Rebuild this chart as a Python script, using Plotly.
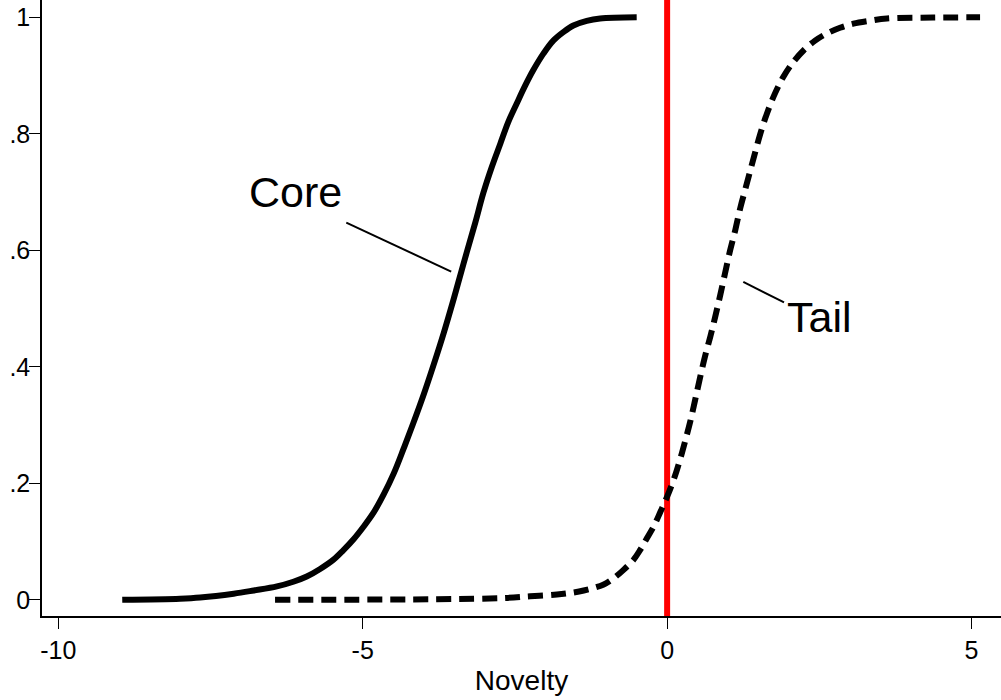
import plotly.graph_objects as go

# Data
core_x = [-8.95, -8.0, -7.67, -7.12, -6.79, -6.41, -6.14, -5.92, -5.70, -5.48, -5.32, -5.15,
          -4.99, -4.82, -4.66, -4.49, -4.33, -4.17, -4.0, -3.84, -3.67, -3.51, -3.43, -3.29,
          -3.15, -3.02, -2.88, -2.74, -2.61, -2.47, -2.33, -2.20, -2.03, -1.87, -1.70, -1.54,
          -1.32, -1.10, -0.50]
core_y = [0.0, 0.002, 0.004, 0.0105, 0.016, 0.023, 0.031, 0.040, 0.053, 0.069, 0.085, 0.104,
          0.125, 0.150, 0.180, 0.217, 0.259, 0.303, 0.352, 0.402, 0.458, 0.515, 0.545, 0.597,
          0.648, 0.698, 0.743, 0.783, 0.820, 0.852, 0.883, 0.909, 0.938, 0.960, 0.975, 0.986,
          0.994, 0.998, 1.0]

tail_x = [-6.44, -3.78, -2.69, -2.25, -1.81, -1.54, -1.37, -1.05, -0.88, -0.72, -0.55, -0.44,
          -0.33, -0.22, -0.11, 0.0, 0.11, 0.21, 0.30, 0.38, 0.46, 0.54, 0.62, 0.71, 0.79, 0.87,
          0.95, 1.03, 1.12, 1.20, 1.31, 1.42, 1.53, 1.64, 1.77, 1.91, 2.07, 2.24, 2.43, 2.62,
          2.84, 3.06, 3.33, 3.61, 4.37, 5.14]
tail_y = [0.0, 0.001, 0.003, 0.006, 0.009, 0.0125, 0.016, 0.026, 0.037, 0.051, 0.069, 0.086,
          0.106, 0.126, 0.151, 0.177, 0.207, 0.240, 0.274, 0.306, 0.343, 0.381, 0.417, 0.452,
          0.486, 0.522, 0.560, 0.598, 0.635, 0.672, 0.715, 0.758, 0.800, 0.835, 0.869, 0.898,
          0.923, 0.943, 0.960, 0.972, 0.982, 0.989, 0.994, 0.998, 0.9995, 1.0]

cutoff_x = 0

x_ticks = [-10, -5, 0, 5]
x_tick_labels = ["-10", "-5", "0", "5"]
y_ticks = [0, 0.2, 0.4, 0.6, 0.8, 1]
y_tick_labels = ["0", ".2", ".4", ".6", ".8", "1"]

x_title = "Novelty"
labels = ["Core", "Tail"]
label_pos = [(-6.11, 0.70), (2.51, 0.485)]
pointer_lines = [((-5.27, 0.6475), (-3.547, 0.5635)), ((1.251, 0.5458), (1.920, 0.5105))]

FONT = "Liberation Sans, Arial, Helvetica, sans-serif"

fig = go.Figure()
fig.add_trace(go.Scatter(x=core_x, y=core_y, mode="lines", name="Core",
                         line=dict(color="black", width=6, shape="spline", smoothing=1.0)))
fig.add_trace(go.Scatter(x=tail_x, y=tail_y, mode="lines", name="Tail",
                         line=dict(color="black", width=6, shape="spline", smoothing=1.0,
                                   dash="15px,8px")))

fig.add_shape(type="line", x0=cutoff_x, x1=cutoff_x, y0=0, y1=1, xref="x", yref="paper",
              line=dict(color="#ff0000", width=6), layer="below")

for (p0, p1) in pointer_lines:
    fig.add_shape(type="line", x0=p0[0], y0=p0[1], x1=p1[0], y1=p1[1], xref="x", yref="y",
                  line=dict(color="black", width=2))

for txt, (lx, ly) in zip(labels, label_pos):
    fig.add_annotation(x=lx, y=ly, text=txt, showarrow=False, xref="x", yref="y",
                       font=dict(family=FONT, size=43, color="black"),
                       xanchor="center", yanchor="middle")

fig.update_layout(
    width=1001, height=700,
    margin=dict(l=42, r=0, t=0, b=84),
    paper_bgcolor="white", plot_bgcolor="white",
    showlegend=False,
    font=dict(family=FONT, size=25, color="black"),
    xaxis=dict(range=[-10.268, 5.484], tickvals=x_ticks, ticktext=x_tick_labels,
               showgrid=False, zeroline=False, showline=True, linecolor="black", linewidth=1.5,
               ticks="outside", ticklen=11, tickwidth=1.3, tickcolor="black",
               tickfont=dict(family=FONT, size=25),
               title=dict(text=x_title, font=dict(family=FONT, size=28), standoff=8)),
    yaxis=dict(range=[-0.0278, 1.0297], tickvals=y_ticks, ticktext=y_tick_labels,
               showgrid=False, zeroline=False, showline=True, linecolor="black", linewidth=1.5,
               ticks="outside", ticklen=11, tickwidth=1.3, tickcolor="black",
               ticklabelstandoff=-6,
               tickfont=dict(family=FONT, size=25)),
)

fig.write_html("out.html")
